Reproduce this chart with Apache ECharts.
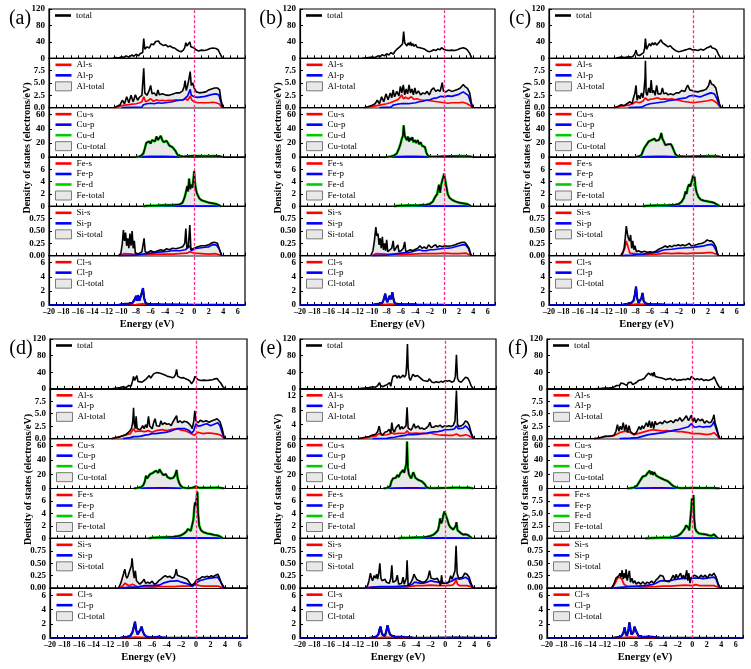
<!DOCTYPE html>
<html>
<head>
<meta charset="utf-8">
<script src="https://cdn.jsdelivr.net/npm/echarts@6/dist/echarts.min.js"></script>
<style>html,body{margin:0;padding:0;background:#fff}#chart{width:751px;height:669px}</style>
</head>
<body>
<div id="chart"></div>
<script>
// ---- data, [energy (eV), DOS] ----
// (a)
const aTot = [[-11.2,0],[-10.8,2],[-10.4,1],[-10,4],[-9.7,2],[-9.4,6],[-9,3],[-8.6,8],[-8.3,5],[-8,10],[-7.7,6],[-7.4,12],[-7.1,14],[-6.95,48],[-6.8,22],[-6.5,28],[-6.2,25],[-5.9,35],[-5.6,33],[-5.3,41],[-5.1,38],[-4.9,42],[-4.7,36],[-4.5,40],[-4.2,31],[-3.9,33],[-3.6,28],[-3.3,30],[-3,26],[-2.7,25],[-2.4,21],[-2.1,18],[-1.8,16],[-1.5,20],[-1.3,26],[-1.15,38],[-1,30],[-0.8,27],[-0.6,40],[-0.45,28],[-0.25,32],[0,25],[0.3,20],[0.6,18],[1,20],[1.4,19],[1.8,21],[2.2,24],[2.6,25],[3,24],[3.3,21],[3.6,10],[3.9,0]];
const aAlT = [[-11,0],[-10.6,0.3],[-10.2,0.6],[-9.9,1.5],[-9.6,0.8],[-9.3,2.2],[-9,1],[-8.7,2.5],[-8.4,1.2],[-8.1,2.6],[-7.8,1.5],[-7.5,2.2],[-7.2,2.5],[-6.95,8],[-6.8,3],[-6.5,2.5],[-6.2,3.5],[-6,4.5],[-5.8,2.8],[-5.5,3],[-5.2,2.4],[-5,3.6],[-4.8,2.6],[-4.4,2.8],[-4,2.6],[-3.5,2.5],[-3,2.7],[-2.5,3],[-2,3],[-1.6,3.4],[-1.4,4.2],[-1.25,5.5],[-1.1,3.5],[-0.9,4.5],[-0.7,6],[-0.55,7.3],[-0.4,4.5],[-0.2,5],[0,4],[0.3,3.2],[0.7,3],[1.2,3.1],[1.6,3.2],[2,3.6],[2.4,3.8],[2.8,4],[3.2,4],[3.5,3.6],[3.7,1.5],[3.95,0]];
const aAlP = [[-10,0],[-7.2,0.1],[-7,0.6],[-6.5,0.8],[-6,0.9],[-5.5,0.8],[-5,1],[-4.5,0.9],[-4,1],[-3.5,1.1],[-3,1.2],[-2.5,1.4],[-2,1.5],[-1.5,1.6],[-1.2,2],[-0.9,2.4],[-0.55,3.7],[-0.4,2.5],[0,2.2],[0.5,2.1],[1,2.2],[1.5,2.3],[2,2.5],[2.5,2.7],[3,2.8],[3.4,2.6],[3.7,1],[3.9,0]];
const aAlS = [[-11,0],[-10.5,0.2],[-10,0.4],[-9.5,0.5],[-9,0.6],[-8.5,0.7],[-8,0.8],[-7.5,1],[-7.2,1.2],[-6.95,2.2],[-6.7,1.2],[-6.4,1.4],[-6,1.8],[-5.6,1.3],[-5.2,1.6],[-4.8,1.4],[-4.4,1.5],[-4,1.4],[-3.5,1.5],[-3,1.5],[-2.5,1.6],[-2,1.5],[-1.5,1.6],[-1.2,1.8],[-0.9,1.5],[-0.55,2.3],[-0.3,1.5],[0,1.2],[0.5,1],[1,1],[1.5,1],[2,1],[2.5,1.1],[3,1],[3.4,0.8],[3.7,0.3],[3.9,0]];
const aCuT = [[-8,0],[-7.6,0.5],[-7.3,2],[-7,5],[-6.8,12],[-6.6,20],[-6.4,18],[-6.2,22],[-6,19],[-5.8,24],[-5.6,26],[-5.4,22],[-5.2,29],[-5,24],[-4.8,27],[-4.6,30],[-4.4,24],[-4.2,21],[-4,20],[-3.8,23],[-3.6,21],[-3.4,16],[-3.2,18],[-3,14],[-2.8,12],[-2.6,9],[-2.4,5],[-2.2,2],[-2,0.8],[-1.5,0.5],[-1,1],[-0.5,1.5],[0,1.8],[0.5,1.5],[1,1.2],[2,1.2],[3,1.5],[3.5,1],[3.9,0]];
const aCuP = [[-7.5,0],[-7,0.4],[-6,0.8],[-5,1],[-4,0.9],[-3,0.7],[-2.2,0.3],[-2,0]];
const aCuS = [[-7.5,0],[-6,0.3],[-3,0.3],[-2,0.1],[0,0.2],[3,0.2],[3.9,0]];
const aFeT = [[-7,0],[-6.5,0.1],[-5,0.15],[-4,0.2],[-3,0.2],[-2,0.3],[-1.6,0.6],[-1.3,1.5],[-1.1,2.5],[-0.95,3.3],[-0.85,2.4],[-0.7,4.5],[-0.55,2.8],[-0.4,3.5],[-0.25,3],[-0.1,4.5],[0,5.7],[0.1,4],[0.2,3],[0.35,2.2],[0.5,1.8],[0.7,1.3],[1,1],[1.5,0.8],[2,0.6],[2.5,0.5],[3,0.4],[3.4,0.2],[3.7,0]];
const aFeP = [[-7,0],[-5,0.03],[0,0.05],[3,0.03],[3.7,0]];
const aFeS = [[-7,0],[0,0.02],[3.7,0]];
const aSiT = [[-10.4,0],[-10.1,0.05],[-9.9,0.25],[-9.75,0.52],[-9.6,0.3],[-9.45,0.47],[-9.3,0.2],[-9.15,0.35],[-9,0.15],[-8.85,0.45],[-8.7,0.2],[-8.55,0.5],[-8.4,0.15],[-8.25,0.3],[-8.1,0.05],[-7.6,0.04],[-7.2,0.08],[-7,0.12],[-6.9,0.35],[-6.75,0.08],[-6.4,0.06],[-6,0.1],[-5.5,0.07],[-5,0.1],[-4.6,0.12],[-4.2,0.1],[-3.8,0.14],[-3.4,0.12],[-3,0.15],[-2.5,0.14],[-2,0.16],[-1.6,0.18],[-1.3,0.25],[-1.15,0.55],[-1,0.15],[-0.8,0.2],[-0.6,0.62],[-0.45,0.12],[-0.2,0.15],[0,0.15],[0.5,0.18],[1,0.2],[1.5,0.2],[2,0.22],[2.4,0.26],[2.8,0.27],[3.2,0.25],[3.5,0.12],[3.8,0]];
const aSiP = [[-10.4,0],[-8,0.01],[-7,0.03],[-6,0.05],[-5,0.07],[-4,0.08],[-3,0.1],[-2,0.1],[-1.2,0.12],[-0.6,0.2],[-0.4,0.1],[0,0.14],[0.5,0.15],[1,0.16],[1.5,0.17],[2,0.18],[2.5,0.22],[3,0.22],[3.4,0.15],[3.8,0]];
const aSiS = [[-10.4,0],[-9.7,0.04],[-8.5,0.03],[-7,0.02],[-5,0.03],[-3,0.03],[-1,0.05],[-0.6,0.08],[0,0.05],[1,0.04],[2,0.03],[3,0.04],[3.8,0]];
const aClT = [[-20,0],[-10.5,0],[-10,0.1],[-9.5,0.15],[-9,0.2],[-8.5,0.3],[-8.2,0.8],[-8,1.3],[-7.9,0.6],[-7.75,1.4],[-7.55,0.6],[-7.35,0.4],[-7.2,1.8],[-7.05,2.4],[-6.9,1],[-6.7,0.3],[-6.4,0.15],[-6,0.1],[-5.5,0.08],[-5,0.1],[-4.5,0.05],[-3,0.05],[0,0.03],[3,0.03],[7,0]];
const aClS = [[-10.5,0],[-8,0.05],[-7.1,0.15],[-6.5,0.05],[-5,0.05],[-4.5,0]];

// (b)
const bTot = [[-11.4,0],[-11,1],[-10.5,2],[-10,3],[-9.6,2],[-9.2,6],[-8.9,4],[-8.6,9],[-8.3,6],[-8,11],[-7.7,8],[-7.4,14],[-7.25,18],[-7.1,10],[-6.9,16],[-6.6,22],[-6.4,18],[-6.2,28],[-6,25],[-5.8,35],[-5.65,65],[-5.5,38],[-5.35,42],[-5.2,30],[-5,38],[-4.85,32],[-4.7,40],[-4.55,30],[-4.4,36],[-4.2,29],[-4,34],[-3.8,27],[-3.6,31],[-3.4,26],[-3.2,28],[-3,24],[-2.7,22],[-2.4,18],[-2.1,16],[-1.8,18],[-1.5,21],[-1.2,19],[-0.9,23],[-0.6,21],[-0.4,26],[-0.25,30],[-0.1,22],[0.2,20],[0.6,19],[1,20],[1.4,19],[1.8,21],[2.2,24],[2.6,26],[2.9,24],[3.2,20],[3.5,12],[3.8,0]];
const bAlT = [[-11.2,0],[-10.6,0.2],[-10,0.5],[-9.6,0.8],[-9.3,1.5],[-9,0.8],[-8.7,2.2],[-8.4,1.2],[-8.1,2.8],[-7.8,1.6],[-7.5,3],[-7.3,2],[-7.1,3.6],[-6.9,2.2],[-6.6,3.3],[-6.3,2.4],[-6.1,4.3],[-5.9,3],[-5.7,4.6],[-5.5,2.6],[-5.3,3.8],[-5.1,2.8],[-4.9,4.6],[-4.7,3],[-4.5,3.8],[-4.3,2.6],[-4.1,4],[-3.9,2.8],[-3.6,3.4],[-3.3,2.6],[-3,3],[-2.7,2.8],[-2.4,3.3],[-2.1,2.6],[-1.8,3.6],[-1.5,4],[-1.2,3.3],[-0.9,3.6],[-0.6,3.3],[-0.3,5.1],[-0.15,3.4],[0.2,3.2],[0.6,3.6],[1,3.3],[1.4,3.5],[1.8,3.7],[2.2,4],[2.6,4.7],[2.9,4.2],[3.2,3.9],[3.5,3],[3.7,1.2],[3.9,0]];
const bAlP = [[-9,0],[-7.4,0.1],[-7.1,0.5],[-6.5,0.7],[-6,0.8],[-5,0.8],[-4.5,0.9],[-4,1],[-3.5,1.2],[-3,1.3],[-2.5,1.5],[-2,1.6],[-1.5,1.9],[-1,2],[-0.5,2.3],[-0.3,2.6],[0,2.2],[0.5,2.4],[1,2.3],[1.5,2.5],[2,2.7],[2.6,3.2],[3,2.8],[3.3,2.5],[3.6,1.2],[3.9,0]];
const bAlS = [[-11,0],[-10,0.2],[-9,0.5],[-8,0.8],[-7.5,1],[-7,1.3],[-6.5,1.6],[-6.2,2],[-6,1.6],[-5.9,2.6],[-5.7,1.8],[-5.4,2.1],[-5,1.8],[-4.6,2.2],[-4.2,1.7],[-3.8,1.8],[-3.4,1.6],[-3,1.5],[-2.5,1.5],[-2,1.4],[-1.5,1.3],[-1,1.2],[-0.5,1.1],[-0.3,1.5],[0,1],[0.5,0.9],[1,1],[1.5,1],[2,1],[2.5,1.1],[3,0.9],[3.5,0.5],[3.9,0]];
const bCuT = [[-8,0],[-7.5,0.5],[-7,2],[-6.6,5],[-6.3,12],[-6.1,18],[-5.9,26],[-5.75,30],[-5.65,45],[-5.5,30],[-5.35,28],[-5.2,24],[-5.05,29],[-4.9,22],[-4.75,27],[-4.6,24],[-4.45,28],[-4.3,21],[-4.1,24],[-3.9,20],[-3.7,24],[-3.5,18],[-3.3,21],[-3.1,16],[-2.9,18],[-2.7,14],[-2.5,6],[-2.3,2],[-2,0.5],[-1,0.5],[0,1],[1,1],[2,1.2],[3,1.2],[3.5,0.8],[3.9,0]];
const bCuP = [[-7.5,0],[-6.5,0.5],[-5,0.8],[-4,0.8],[-3,0.6],[-2.3,0.2],[-2,0]];
const bCuS = [[-7.5,0],[-6,0.3],[-3,0.3],[-2,0.1],[0,0.2],[3,0.2],[3.9,0]];
const bFeT = [[-7,0],[-6.5,0.1],[-5,0.15],[-3.5,0.2],[-2.5,0.25],[-2,0.4],[-1.6,0.8],[-1.3,1.5],[-1,2],[-0.85,3],[-0.75,3.5],[-0.6,2.2],[-0.45,3.5],[-0.3,4.2],[-0.15,4.8],[-0.05,5.3],[0.05,4.6],[0.15,4.8],[0.3,3],[0.45,2],[0.7,1.4],[1,1.1],[1.5,0.8],[2,0.6],[2.5,0.5],[3,0.4],[3.3,0.3],[3.7,0]];
const bFeP = [[-7,0],[-4,0.03],[0,0.05],[3,0.03],[3.7,0]];
const bFeS = [[-7,0],[0,0.02],[3.7,0]];
const bSiT = [[-10.2,0],[-9.9,0.1],[-9.7,0.3],[-9.5,0.58],[-9.35,0.4],[-9.2,0.45],[-9.05,0.22],[-8.9,0.35],[-8.75,0.15],[-8.6,0.38],[-8.45,0.12],[-8.3,0.25],[-8.15,0.1],[-8,0.32],[-7.85,0.08],[-7.6,0.1],[-7.3,0.15],[-7.1,0.3],[-6.95,0.1],[-6.7,0.12],[-6.45,0.22],[-6.3,0.08],[-6,0.1],[-5.7,0.15],[-5.5,0.28],[-5.35,0.08],[-5,0.1],[-4.7,0.12],[-4.4,0.1],[-4,0.13],[-3.7,0.15],[-3.4,0.2],[-3.1,0.15],[-2.8,0.18],[-2.5,0.14],[-2.2,0.22],[-2,0.24],[-1.8,0.16],[-1.5,0.2],[-1.2,0.22],[-1,0.17],[-0.7,0.2],[-0.3,0.18],[0,0.2],[0.5,0.19],[1,0.2],[1.5,0.22],[2,0.25],[2.5,0.27],[2.8,0.27],[3.1,0.22],[3.4,0.15],[3.7,0]];
const bSiP = [[-10,0],[-8,0.01],[-7,0.03],[-6,0.05],[-5,0.06],[-4.5,0.08],[-4,0.1],[-3.5,0.12],[-3,0.1],[-2.5,0.1],[-2,0.12],[-1.5,0.12],[-1,0.13],[-0.5,0.14],[0,0.15],[0.5,0.15],[1,0.16],[1.5,0.18],[2,0.2],[2.5,0.22],[2.9,0.22],[3.3,0.15],[3.7,0]];
const bSiS = [[-10,0],[-9.5,0.04],[-8,0.03],[-6,0.02],[-4.5,0.03],[-3,0.04],[-1,0.04],[0,0.05],[1,0.04],[2,0.04],[3,0.05],[3.7,0]];
const bClT = [[-20,0],[-10,0],[-9.6,0.1],[-9,0.2],[-8.6,0.3],[-8.4,0.8],[-8.2,1.6],[-8.05,0.8],[-7.9,0.4],[-7.75,0.9],[-7.6,1.3],[-7.45,0.8],[-7.3,1.4],[-7.2,1.8],[-7.05,0.8],[-6.9,0.3],[-6.6,0.15],[-6,0.1],[-5,0.08],[-4.2,0.1],[-3.8,0.05],[0,0.03],[7,0]];
const bClS = [[-10,0],[-8.5,0.05],[-7.5,0.12],[-7,0.1],[-6,0.05],[-5,0]];

// (c)
const cTot = [[-10.8,0],[-10.4,2],[-10,3],[-9.5,2],[-9,4],[-8.6,3],[-8.3,6],[-8.1,12],[-7.95,20],[-7.8,9],[-7.5,7],[-7.2,10],[-6.9,14],[-6.75,25],[-6.65,48],[-6.5,22],[-6.3,20],[-6.1,36],[-5.9,30],[-5.7,38],[-5.5,33],[-5.3,38],[-5.1,32],[-4.9,36],[-4.7,40],[-4.5,45],[-4.3,38],[-4.1,40],[-3.9,33],[-3.7,35],[-3.5,28],[-3.2,31],[-3,26],[-2.7,22],[-2.4,18],[-2,16],[-1.6,18],[-1.2,20],[-0.8,22],[-0.5,24],[-0.3,26],[-0.1,20],[0.2,21],[0.6,19],[1,22],[1.4,20],[1.8,25],[2.1,27],[2.4,30],[2.6,25],[2.9,24],[3.2,20],[3.5,8],[3.8,0]];
const cAlT = [[-11,0],[-10.5,0.2],[-10,0.6],[-9.6,0.4],[-9.2,0.8],[-8.8,1.2],[-8.5,0.8],[-8.3,2],[-8.1,3],[-7.95,4.5],[-7.8,1.5],[-7.6,2.5],[-7.4,1.8],[-7.2,3],[-7,2],[-6.85,3.5],[-6.7,6],[-6.65,9.5],[-6.55,3],[-6.4,2.5],[-6.2,4],[-6,3],[-5.85,5.6],[-5.7,3],[-5.5,3.5],[-5.3,2.5],[-5.1,4.5],[-4.9,2.8],[-4.7,3.2],[-4.5,2.8],[-4.3,4],[-4.1,2.8],[-3.8,3],[-3.5,2.6],[-3.2,2.8],[-2.8,2.6],[-2.4,3],[-2,3],[-1.6,3.5],[-1.2,3.3],[-0.8,4.6],[-0.5,3.6],[-0.2,3.5],[0.2,3.3],[0.6,3.2],[1,3.4],[1.4,3.5],[1.8,3.8],[2.1,4.5],[2.3,5.6],[2.5,4.8],[2.8,4.6],[3.1,4],[3.4,2],[3.6,0.8],[3.8,0]];
const cAlP = [[-9,0],[-7.2,0.1],[-7,0.4],[-6.5,0.6],[-6,0.8],[-5.5,0.9],[-5,1],[-4.5,1.1],[-4,1.2],[-3.5,1.4],[-3,1.5],[-2.5,1.6],[-2,1.8],[-1.5,1.9],[-1,2],[-0.5,2.4],[0,2.5],[0.5,2.3],[1,2.2],[1.5,2.5],[2,2.8],[2.4,3],[2.6,3.3],[2.9,2.8],[3.2,2],[3.5,0.8],[3.8,0]];
const cAlS = [[-11,0],[-10,0.3],[-9,0.5],[-8.4,0.8],[-8,1.2],[-7.5,1],[-7,1.3],[-6.65,2],[-6.3,1.5],[-6,1.7],[-5.5,1.8],[-5,2],[-4.5,1.7],[-4,1.8],[-3.5,1.7],[-3,1.8],[-2.5,1.6],[-2,1.5],[-1.5,1.3],[-1,1.2],[-0.5,1.1],[0,1],[0.5,1.1],[1,1.2],[1.5,1.3],[2,1.4],[2.5,1.6],[2.8,1.4],[3.2,1],[3.5,0.5],[3.8,0]];
const cCuT = [[-8,0],[-7.5,1],[-7.2,3],[-7,8],[-6.8,13],[-6.6,16],[-6.4,18],[-6.2,22],[-6,20],[-5.8,24],[-5.6,22],[-5.4,26],[-5.2,23],[-5,25],[-4.8,24],[-4.6,28],[-4.45,34],[-4.3,26],[-4.1,22],[-3.9,17],[-3.7,15],[-3.5,18],[-3.3,16],[-3.1,18],[-2.9,14],[-2.7,9],[-2.5,4],[-2.2,1.5],[-2,0.8],[-1,0.6],[0,1],[1,1],[2,1.2],[3,1.3],[3.5,0.8],[3.8,0]];
const cCuP = [[-7.5,0],[-6.5,0.5],[-5,0.8],[-4,0.8],[-3,0.6],[-2.3,0.2],[-2,0]];
const cCuS = [[-7.5,0],[-6,0.3],[-3,0.3],[-2,0.1],[0,0.2],[3,0.2],[3.8,0]];
const cFeT = [[-7,0],[-6.5,0.1],[-5,0.15],[-3.5,0.2],[-2.5,0.25],[-2,0.4],[-1.6,0.8],[-1.3,1.4],[-1.1,2.4],[-0.95,2],[-0.8,3],[-0.6,3.6],[-0.45,3.2],[-0.3,3.8],[-0.15,4.5],[-0.05,5],[0.05,4.2],[0.15,4.8],[0.3,3],[0.45,2.2],[0.7,1.5],[1,1.1],[1.5,0.9],[2,0.8],[2.4,0.7],[2.8,0.6],[3.1,0.4],[3.4,0.2],[3.6,0]];
const cFeP = [[-7,0],[-4,0.03],[0,0.05],[3,0.03],[3.6,0]];
const cFeS = [[-7,0],[0,0.02],[3.6,0]];
const cSiT = [[-10.1,0],[-9.8,0.05],[-9.6,0.15],[-9.45,0.35],[-9.3,0.6],[-9.15,0.45],[-9,0.35],[-8.85,0.3],[-8.7,0.42],[-8.55,0.15],[-8.4,0.3],[-8.25,0.12],[-8.1,0.2],[-7.9,0.08],[-7.6,0.1],[-7.2,0.07],[-6.8,0.09],[-6.4,0.07],[-6,0.08],[-5.6,0.07],[-5.2,0.09],[-4.8,0.13],[-4.5,0.15],[-4.2,0.17],[-3.9,0.2],[-3.6,0.17],[-3.3,0.2],[-3,0.18],[-2.7,0.21],[-2.4,0.2],[-2.1,0.22],[-1.8,0.2],[-1.5,0.22],[-1.2,0.2],[-0.9,0.22],[-0.6,0.25],[-0.3,0.2],[0,0.2],[0.4,0.22],[0.8,0.24],[1.2,0.25],[1.6,0.28],[1.9,0.32],[2.2,0.3],[2.5,0.3],[2.8,0.26],[3.1,0.18],[3.3,0.05],[3.5,0]];
const cSiP = [[-10,0],[-8.5,0.01],[-7,0.03],[-6,0.05],[-5,0.07],[-4.5,0.1],[-4,0.12],[-3,0.13],[-2,0.15],[-1,0.16],[0,0.17],[0.5,0.18],[1,0.19],[1.5,0.2],[2,0.22],[2.5,0.23],[2.8,0.2],[3.1,0.12],[3.4,0]];
const cSiS = [[-10,0],[-9.5,0.15],[-9.3,0.3],[-9.1,0.2],[-8.8,0.05],[-7,0.02],[-5,0.03],[-4,0.05],[-3,0.04],[-2,0.05],[-1,0.04],[0,0.05],[1,0.05],[2,0.06],[2.6,0.06],[3.2,0.03],[3.5,0]];
const cClT = [[-20,0],[-10,0],[-9.5,0.1],[-9,0.2],[-8.6,0.3],[-8.3,0.6],[-8.1,1.5],[-7.95,2.6],[-7.8,1],[-7.6,0.3],[-7.4,0.4],[-7.2,1],[-7.05,1.7],[-6.9,0.6],[-6.7,0.3],[-6.4,0.15],[-6,0.1],[-5,0.08],[-4,0.05],[0,0.03],[7,0]];
const cClS = [[-10,0],[-8.5,0.05],[-7.8,0.12],[-7,0.1],[-6,0.05],[-5,0]];

// (d)
const dTot = [[-11.6,0],[-11.2,1],[-10.8,2],[-10.4,3],[-10,5],[-9.6,3],[-9.2,8],[-8.9,6],[-8.7,18],[-8.55,30],[-8.4,20],[-8.25,26],[-8.1,32],[-7.95,18],[-7.7,14],[-7.4,16],[-7.1,20],[-6.8,24],[-6.6,22],[-6.4,32],[-6.2,26],[-6,30],[-5.8,36],[-5.6,34],[-5.4,39],[-5.2,40],[-5,38],[-4.8,41],[-4.5,35],[-4.2,33],[-3.9,30],[-3.6,29],[-3.3,27],[-3,28],[-2.8,34],[-2.65,47],[-2.5,30],[-2.3,28],[-2,26],[-1.7,27],[-1.4,24],[-1.1,22],[-0.8,18],[-0.6,12],[-0.45,10],[-0.3,20],[-0.15,30],[0,27],[0.3,22],[0.7,20],[1.1,21],[1.5,20],[1.9,21],[2.3,22],[2.6,24],[2.9,25],[3.1,20],[3.4,14],[3.7,5],[4,0]];
const dAlT = [[-11.6,0],[-11,0.2],[-10.5,0.4],[-10,0.6],[-9.6,0.8],[-9.3,1.2],[-9,1.6],[-8.8,2.2],[-8.65,3.5],[-8.55,6.2],[-8.45,3],[-8.3,2],[-8.2,4.5],[-8.05,2],[-7.9,1.6],[-7.6,1.8],[-7.3,2.6],[-7.1,2],[-6.9,2.8],[-6.7,2.2],[-6.5,4.5],[-6.35,2.6],[-6.2,3],[-6,2],[-5.8,3.2],[-5.6,4],[-5.4,2.6],[-5.2,3],[-5,2.5],[-4.8,3.6],[-4.6,2.8],[-4.3,3.2],[-4,2.9],[-3.7,3],[-3.4,2.6],[-3.1,3.5],[-2.9,3.4],[-2.65,4.6],[-2.5,3.2],[-2.2,3.6],[-1.9,3.2],[-1.6,3.5],[-1.3,3.4],[-1,3.1],[-0.7,2.6],[-0.5,2],[-0.3,3.5],[-0.15,5.6],[0,3.6],[0.3,3.2],[0.6,3.7],[1,3.4],[1.4,3.6],[1.8,3.3],[2.2,3.6],[2.6,3.8],[2.9,4],[3.1,4.3],[3.3,3.4],[3.6,2],[3.9,0]];
const dAlP = [[-10,0],[-9,0.2],[-8.5,0.4],[-8,0.4],[-7.5,0.5],[-7,0.7],[-6.5,0.8],[-6,1],[-5.5,1],[-5,1.1],[-4.5,1.2],[-4,1.3],[-3.5,1.5],[-3,1.8],[-2.5,2],[-2,2],[-1.5,2],[-1,1.7],[-0.6,1.1],[-0.3,1.6],[0,3],[0.3,2.5],[0.7,2.6],[1,2.8],[1.5,3],[2,2.6],[2.5,2.9],[3,3.2],[3.3,2.6],[3.6,1.2],[3.9,0]];
const dAlS = [[-11.5,0],[-10.5,0.3],[-10,0.6],[-9.5,0.8],[-9,1],[-8.55,2],[-8.3,1.4],[-8,1.5],[-7.5,1.5],[-7,1.4],[-6.5,1.6],[-6,1.3],[-5.5,1.6],[-5,1.7],[-4.5,1.8],[-4,1.6],[-3.5,1.8],[-3,1.9],[-2.5,2],[-2,1.7],[-1.5,1.6],[-1,1.3],[-0.5,0.9],[-0.2,0.7],[0,1],[0.3,1.3],[0.7,1.1],[1,1],[1.5,1.1],[2,1.1],[2.5,1],[3,0.9],[3.4,0.7],[3.7,0.3],[3.9,0]];
const dCuT = [[-8.5,0],[-8,0.8],[-7.5,2],[-7.2,5],[-7,10],[-6.85,18],[-6.7,14],[-6.5,16],[-6.3,20],[-6.1,18],[-5.9,22],[-5.7,21],[-5.5,25],[-5.3,26],[-5.15,22],[-5,27],[-4.85,28],[-4.7,22],[-4.5,19],[-4.3,18],[-4.1,20],[-3.9,16],[-3.7,17],[-3.5,14],[-3.3,16],[-3.1,15],[-2.9,18],[-2.75,22],[-2.65,26],[-2.5,14],[-2.3,8],[-2.1,4],[-1.8,1.5],[-1.4,0.8],[-1,0.5],[-0.5,1],[0,3],[0.3,1.5],[0.7,1],[1.5,1],[2.5,1.2],[3,1.3],[3.5,0.8],[3.9,0]];
const dCuP = [[-8,0],[-7,0.5],[-5,0.8],[-4,0.8],[-3,0.6],[-2.3,0.2],[-2,0]];
const dCuS = [[-8,0],[-6,0.3],[-3,0.3],[-2,0.1],[0,0.3],[3,0.2],[3.9,0]];
const dFeT = [[-6.5,0],[-6,0.1],[-5,0.15],[-4,0.2],[-3,0.25],[-2.5,0.35],[-2,0.5],[-1.6,0.8],[-1.3,1.1],[-1.1,1.5],[-0.9,1.6],[-0.7,1.2],[-0.5,1],[-0.35,3],[-0.2,5.2],[-0.1,5.8],[0,5.2],[0.1,6.5],[0.2,7.5],[0.3,4],[0.45,2],[0.7,1.3],[1,1],[1.5,0.8],[2,0.7],[2.5,0.55],[3,0.45],[3.3,0.3],[3.7,0]];
const dFeP = [[-6.5,0],[-4,0.03],[0,0.06],[3,0.04],[3.7,0]];
const dFeS = [[-6.5,0],[0,0.02],[3.7,0]];
const dSiT = [[-10.6,0],[-10.3,0.1],[-10.1,0.2],[-9.9,0.3],[-9.75,0.38],[-9.6,0.25],[-9.45,0.2],[-9.3,0.25],[-9.15,0.32],[-9,0.28],[-8.85,0.45],[-8.75,0.6],[-8.6,0.35],[-8.45,0.2],[-8.3,0.35],[-8.15,0.15],[-8,0.12],[-7.7,0.08],[-7.4,0.12],[-7.1,0.18],[-6.9,0.1],[-6.6,0.12],[-6.3,0.1],[-6,0.14],[-5.7,0.08],[-5.4,0.1],[-5.1,0.15],[-4.8,0.18],[-4.5,0.22],[-4.2,0.25],[-3.9,0.22],[-3.6,0.24],[-3.3,0.2],[-3,0.22],[-2.8,0.3],[-2.7,0.38],[-2.55,0.26],[-2.4,0.28],[-2.2,0.24],[-2,0.26],[-1.8,0.22],[-1.5,0.2],[-1.2,0.18],[-0.9,0.12],[-0.6,0.05],[-0.4,0.04],[-0.2,0.1],[0,0.15],[0.3,0.18],[0.6,0.2],[0.9,0.23],[1.2,0.22],[1.5,0.24],[1.8,0.22],[2.1,0.25],[2.4,0.23],[2.7,0.26],[3,0.28],[3.2,0.22],[3.5,0.1],[3.8,0.03],[3.9,0]];
const dSiP = [[-10.5,0],[-9,0.02],[-8,0.02],[-7,0.05],[-6,0.05],[-5,0.06],[-4.5,0.1],[-4,0.12],[-3.5,0.14],[-3,0.14],[-2.5,0.15],[-2,0.12],[-1.5,0.1],[-1,0.08],[-0.5,0.03],[0,0.1],[0.5,0.15],[1,0.17],[1.5,0.19],[2,0.2],[2.5,0.21],[3,0.22],[3.4,0.12],[3.8,0]];
const dSiS = [[-10.5,0],[-10,0.05],[-9.7,0.1],[-9.2,0.05],[-8.7,0.08],[-8,0.03],[-6,0.02],[-5,0.03],[-4,0.03],[-3,0.03],[-2,0.04],[-1,0.04],[-0.3,0.06],[0,0.07],[0.5,0.05],[1,0.04],[2,0.04],[3,0.04],[3.8,0]];
const dClT = [[-20,0],[-10.5,0],[-10,0.1],[-9.5,0.15],[-9,0.3],[-8.7,0.8],[-8.5,1.6],[-8.35,2.3],[-8.2,1.2],[-8,0.5],[-7.8,0.6],[-7.6,1.2],[-7.45,1.6],[-7.3,1],[-7.1,0.5],[-6.8,0.2],[-6.4,0.12],[-6,0.1],[-5.5,0.12],[-5,0.2],[-4.7,0.1],[-4,0.05],[0,0.03],[7,0]];
const dClS = [[-10.5,0],[-9,0.05],[-8.3,0.12],[-7.5,0.1],[-6.5,0.05],[-5,0]];

// (e)
const eTot = [[-12,0],[-11.5,1],[-11,2],[-10.5,3],[-10,5],[-9.6,4],[-9.3,8],[-9.05,15],[-8.9,8],[-8.6,5],[-8.3,8],[-8,10],[-7.8,12],[-7.65,15],[-7.5,6],[-7.35,20],[-7.2,30],[-7,28],[-6.8,32],[-6.6,26],[-6.4,32],[-6.2,26],[-6,30],[-5.8,33],[-5.6,28],[-5.4,34],[-5.3,60],[-5.2,108],[-5.1,50],[-4.95,26],[-4.8,20],[-4.6,24],[-4.45,35],[-4.3,36],[-4.15,30],[-4,28],[-3.8,32],[-3.6,35],[-3.4,26],[-3.2,22],[-3,20],[-2.7,19],[-2.4,18],[-2.2,24],[-2,22],[-1.8,16],[-1.5,15],[-1.2,17],[-0.9,15],[-0.6,18],[-0.3,16],[0,20],[0.3,18],[0.6,20],[0.9,16],[1.2,18],[1.4,30],[1.55,82],[1.7,25],[1.9,18],[2.2,16],[2.5,22],[2.8,28],[3.1,26],[3.3,20],[3.6,6],[3.9,0]];
const eAlT = [[-12,0],[-11.5,0.2],[-11,0.4],[-10.5,0.6],[-10,1],[-9.6,1.2],[-9.3,2],[-9.1,3.5],[-8.9,1.6],[-8.6,1],[-8.3,1.8],[-8,2],[-7.7,2.6],[-7.5,1.5],[-7.35,4.5],[-7.2,2.5],[-7,1.8],[-6.8,3],[-6.6,2.6],[-6.4,4],[-6.2,2.6],[-6,3.4],[-5.8,2.8],[-5.6,3],[-5.4,3.6],[-5.25,8.8],[-5.1,3],[-4.9,2.8],[-4.7,2.4],[-4.5,3.2],[-4.3,4.2],[-4.1,3],[-3.9,3.2],[-3.7,3.6],[-3.5,2.8],[-3.2,3],[-2.9,2.6],[-2.6,3],[-2.3,3.6],[-2.1,4.6],[-1.9,3.2],[-1.6,3.2],[-1.3,3.6],[-1,3.4],[-0.7,3.8],[-0.4,3.2],[-0.1,3.6],[0.2,3.4],[0.5,3.6],[0.8,3.4],[1.1,3.7],[1.35,5],[1.55,13.5],[1.7,4],[1.9,3.4],[2.2,3.6],[2.5,4],[2.8,5],[3.1,4.6],[3.3,3.8],[3.6,1.5],[3.9,0]];
const eAlP = [[-10,0],[-8,0.1],[-7.5,0.3],[-7,0.4],[-6.5,0.6],[-6,0.8],[-5.5,0.9],[-5.2,1.2],[-5,1],[-4.5,1.1],[-4,1.2],[-3.5,1.3],[-3,1.5],[-2.5,1.6],[-2,1.8],[-1.5,1.9],[-1,2],[-0.5,2.2],[0,2.5],[0.5,2.5],[1,2.6],[1.3,2.8],[1.55,3.6],[1.8,2.8],[2.2,2.9],[2.5,3],[2.8,3.6],[3.1,3],[3.4,2.2],[3.7,0.8],[3.9,0]];
const eAlS = [[-12,0],[-11,0.2],[-10.5,0.4],[-10,0.6],[-9.5,0.8],[-9.1,1.5],[-8.8,1],[-8,1.1],[-7.35,1.6],[-7,1.3],[-6.5,1.5],[-6,1.5],[-5.5,1.6],[-5.25,2.2],[-5,1.6],[-4.5,1.5],[-4,1.6],[-3.5,1.5],[-3,1.4],[-2.5,1.4],[-2.1,1.6],[-1.5,1.3],[-1,1.1],[-0.5,1],[0,1],[0.5,0.9],[1,0.9],[1.55,1.3],[2,0.8],[2.5,0.9],[2.8,1.1],[3.2,0.9],[3.6,0.4],[3.9,0]];
const eCuT = [[-8.5,0],[-8,0.8],[-7.6,3],[-7.4,10],[-7.2,14],[-7,16],[-6.8,15],[-6.6,19],[-6.4,16],[-6.2,21],[-6,20],[-5.8,26],[-5.65,22],[-5.5,24],[-5.35,35],[-5.25,66],[-5.15,30],[-5,20],[-4.85,17],[-4.7,14],[-4.55,18],[-4.4,23],[-4.25,19],[-4.1,15],[-3.9,14],[-3.7,12],[-3.5,12],[-3.2,10],[-3,9],[-2.8,6],[-2.6,2],[-2.3,0.8],[-1.5,0.5],[-0.5,0.8],[0.5,1],[1.3,1.2],[1.55,4],[1.8,1.2],[2.5,1],[3.2,1.2],[3.6,0.6],[3.9,0]];
const eCuP = [[-8,0],[-7,0.5],[-5,0.8],[-4,0.8],[-3,0.6],[-2.5,0.2],[-2.2,0]];
const eCuS = [[-8,0],[-6,0.3],[-3,0.3],[-2,0.1],[0,0.2],[3,0.2],[3.9,0]];
const eFeT = [[-6.5,0],[-6,0.08],[-5,0.1],[-4,0.15],[-3,0.2],[-2.5,0.25],[-2,0.4],[-1.6,0.6],[-1.3,0.9],[-1,1.3],[-0.85,2],[-0.7,3.2],[-0.55,2.4],[-0.4,2.8],[-0.25,3.8],[-0.1,4.3],[0,4.4],[0.15,4],[0.3,3],[0.5,2.2],[0.7,1.8],[0.9,1.5],[1.1,1.4],[1.3,1.3],[1.45,2],[1.55,2.6],[1.7,1.3],[1.9,1],[2.2,0.8],[2.5,0.6],[2.8,0.65],[3.1,0.55],[3.4,0.3],[3.7,0]];
const eFeP = [[-6.5,0],[-4,0.03],[0,0.06],[3,0.04],[3.7,0]];
const eFeS = [[-6.5,0],[0,0.02],[3.7,0]];
const eSiT = [[-11,0],[-10.7,0.05],[-10.5,0.15],[-10.3,0.3],[-10.15,0.2],[-10,0.15],[-9.8,0.25],[-9.6,0.2],[-9.45,0.28],[-9.3,0.18],[-9.15,0.3],[-9,0.5],[-8.85,0.2],[-8.7,0.15],[-8.5,0.12],[-8.3,0.18],[-8.1,0.12],[-7.9,0.15],[-7.7,0.1],[-7.5,0.2],[-7.35,0.46],[-7.2,0.12],[-7,0.1],[-6.8,0.15],[-6.6,0.26],[-6.4,0.08],[-6.2,0.12],[-6,0.1],[-5.8,0.22],[-5.65,0.08],[-5.5,0.1],[-5.35,0.2],[-5.25,0.56],[-5.1,0.05],[-4.9,0.08],[-4.7,0.12],[-4.5,0.18],[-4.3,0.28],[-4.1,0.22],[-3.9,0.17],[-3.6,0.15],[-3.3,0.13],[-3,0.12],[-2.7,0.14],[-2.4,0.2],[-2.15,0.35],[-1.95,0.2],[-1.7,0.16],[-1.4,0.18],[-1.1,0.2],[-0.8,0.12],[-0.65,0.05],[-0.5,0.26],[-0.35,0.1],[-0.1,0.12],[0.2,0.1],[0.5,0.12],[0.75,0.25],[0.95,0.18],[1.2,0.15],[1.35,0.35],[1.5,0.85],[1.65,0.3],[1.85,0.2],[2.1,0.2],[2.4,0.22],[2.7,0.3],[3,0.28],[3.3,0.22],[3.6,0.08],[3.9,0]];
const eSiP = [[-11,0],[-10,0.02],[-9,0.03],[-8,0.03],[-7,0.03],[-6,0.04],[-5,0.05],[-4.5,0.08],[-4.2,0.12],[-3.5,0.1],[-3,0.1],[-2.5,0.12],[-2,0.15],[-1.5,0.13],[-1,0.12],[-0.5,0.1],[0,0.1],[0.5,0.12],[1,0.15],[1.5,0.2],[2,0.18],[2.5,0.2],[2.8,0.22],[3.2,0.18],[3.5,0.08],[3.8,0]];
const eSiS = [[-11,0],[-10,0.02],[-8,0.02],[-5.4,0.02],[-5.2,0.05],[-4,0.05],[-3,0.05],[-2,0.06],[-1,0.05],[0,0.05],[1,0.06],[1.3,0.1],[1.5,0.18],[1.7,0.08],[2,0.05],[3,0.05],[3.5,0.03],[3.8,0]];
const eClT = [[-20,0],[-10.5,0],[-10,0.1],[-9.5,0.2],[-9.2,0.5],[-9.05,1.2],[-8.9,1.6],[-8.75,0.8],[-8.6,0.4],[-8.3,0.3],[-8.1,1],[-7.95,1.8],[-7.8,1.2],[-7.6,0.5],[-7.3,0.3],[-7,0.2],[-6.5,0.15],[-6,0.15],[-5.5,0.12],[-5,0.1],[-4.5,0.05],[-2,0.03],[1.4,0.05],[1.6,0.2],[1.8,0.05],[7,0]];
const eClS = [[-10.5,0],[-9,0.05],[-8,0.1],[-7,0.08],[-6,0.05],[-5,0]];

// (f)
const fTot = [[-13.5,0],[-13,0.5],[-12.5,1],[-12,2],[-11.5,2],[-11,3],[-10.7,5],[-10.4,8],[-10.2,12],[-10,8],[-9.8,14],[-9.6,10],[-9.4,12],[-9.2,16],[-9,8],[-8.8,15],[-8.6,12],[-8.4,16],[-8.2,10],[-8,9],[-7.8,14],[-7.6,18],[-7.4,20],[-7.2,24],[-7,22],[-6.8,26],[-6.6,25],[-6.4,30],[-6.2,34],[-6,38],[-5.85,42],[-5.7,33],[-5.55,38],[-5.4,30],[-5.25,40],[-5.1,30],[-4.9,33],[-4.7,28],[-4.5,30],[-4.2,26],[-3.9,24],[-3.6,22],[-3.3,24],[-3,25],[-2.7,21],[-2.4,24],[-2.1,20],[-1.8,22],[-1.5,21],[-1.2,23],[-0.9,22],[-0.6,25],[-0.3,22],[-0.1,30],[0.1,26],[0.4,22],[0.7,24],[1,22],[1.3,24],[1.6,20],[1.9,22],[2.2,20],[2.5,22],[2.8,24],[3,29],[3.2,22],[3.4,14],[3.7,5],[4,0]];
const fAlT = [[-13.5,0],[-13,0.1],[-12.5,0.3],[-12,0.5],[-11.5,0.5],[-11,0.6],[-10.7,0.8],[-10.5,1.5],[-10.3,2.8],[-10.1,1.5],[-9.9,2.5],[-9.7,1.8],[-9.5,3.2],[-9.3,1.6],[-9.1,2.8],[-8.9,1.2],[-8.7,2.6],[-8.5,1.4],[-8.3,1],[-8,0.8],[-7.7,1.2],[-7.5,1.4],[-7.3,2.4],[-7.1,1.8],[-6.9,2.6],[-6.7,2],[-6.5,2.6],[-6.3,3.2],[-6.1,2.4],[-5.9,3.6],[-5.7,2.2],[-5.5,3.4],[-5.3,2],[-5.1,3.5],[-4.9,2.8],[-4.7,3],[-4.4,3.3],[-4.1,3],[-3.8,3.6],[-3.5,3.2],[-3.2,3.4],[-2.9,3.6],[-2.6,3.2],[-2.3,3.8],[-2,3.6],[-1.7,4.2],[-1.4,3.5],[-1.1,4],[-0.8,4.6],[-0.5,3.6],[-0.3,3.9],[-0.1,4.7],[0.1,3.4],[0.3,4.2],[0.5,3.2],[0.8,4],[1.1,3.6],[1.4,3.9],[1.7,3.1],[2,3.6],[2.3,3.2],[2.6,3.3],[2.85,4],[3,4.8],[3.15,3.2],[3.4,2],[3.6,0.8],[3.8,0]];
const fAlP = [[-10,0],[-8.5,0.1],[-7.5,0.2],[-7,0.4],[-6.5,0.6],[-6,0.8],[-5.5,0.9],[-5,1],[-4.5,1.1],[-4,1.2],[-3.5,1.4],[-3,1.5],[-2.5,1.7],[-2,1.8],[-1.5,2],[-1,2.2],[-0.5,2.4],[-0.1,3],[0.2,2.4],[0.5,2.3],[1,2.5],[1.5,2.3],[2,2.4],[2.5,2.4],[2.8,2.8],[3,3.5],[3.2,2.4],[3.5,1.2],[3.8,0]];
const fAlS = [[-13.5,0],[-12.5,0.2],[-12,0.4],[-11,0.5],[-10.5,0.8],[-10,1.2],[-9.5,1.4],[-9,1.5],[-8.5,1.2],[-8,0.8],[-7.5,1],[-7,1.2],[-6.5,1.4],[-6,1.6],[-5.5,1.8],[-5,1.7],[-4.5,1.6],[-4,1.5],[-3.5,1.6],[-3,1.5],[-2.5,1.5],[-2,1.4],[-1.5,1.4],[-1,1.3],[-0.5,1.2],[0,1],[0.5,1],[1,1],[1.5,0.9],[2,0.8],[2.5,0.9],[3,1.2],[3.3,0.8],[3.6,0.3],[3.8,0]];
const fCuT = [[-9,0],[-8.5,0.5],[-8,1.5],[-7.6,4],[-7.3,9],[-7,14],[-6.8,17],[-6.6,19],[-6.4,18],[-6.2,21],[-6,23],[-5.85,25],[-5.7,20],[-5.55,24],[-5.4,19],[-5.25,23],[-5.1,24],[-4.95,18],[-4.8,20],[-4.6,16],[-4.4,17],[-4.2,14],[-4,14],[-3.8,12],[-3.5,11],[-3.2,9],[-2.9,6],[-2.6,3.5],[-2.3,2],[-2,1],[-1.5,0.5],[-0.5,0.6],[0,1],[1,0.7],[2,0.6],[3,0.8],[3.5,0.4],[3.8,0]];
const fCuP = [[-8.5,0],[-7,0.4],[-5,0.8],[-4,0.8],[-3,0.6],[-2.3,0.2],[-2,0]];
const fCuS = [[-8.5,0],[-6,0.3],[-3,0.3],[-2,0.1],[0,0.2],[3,0.2],[3.8,0]];
const fFeT = [[-6.5,0],[-6,0.05],[-5,0.1],[-4,0.15],[-3,0.2],[-2.5,0.3],[-2,0.5],[-1.6,0.9],[-1.3,1.4],[-1,2],[-0.85,2.6],[-0.7,3],[-0.55,2.2],[-0.4,1.6],[-0.25,1.2],[-0.12,6],[-0.05,8],[0.02,6.8],[0.1,7.2],[0.18,8.7],[0.28,4],[0.4,2],[0.6,1.4],[0.9,1],[1.3,0.9],[1.8,0.8],[2.3,0.6],[2.7,0.55],[3,0.8],[3.2,0.4],[3.4,0.2],[3.6,0]];
const fFeP = [[-6.5,0],[-4,0.03],[0,0.06],[3,0.04],[3.6,0]];
const fFeS = [[-6.5,0],[0,0.02],[3.6,0]];
const fSiT = [[-11.2,0],[-10.9,0.05],[-10.7,0.12],[-10.5,0.2],[-10.3,0.22],[-10.1,0.25],[-9.95,0.3],[-9.8,0.22],[-9.65,0.36],[-9.5,0.18],[-9.35,0.3],[-9.2,0.2],[-9.1,0.38],[-8.95,0.15],[-8.8,0.25],[-8.65,0.35],[-8.5,0.12],[-8.3,0.2],[-8.1,0.1],[-7.9,0.15],[-7.7,0.08],[-7.4,0.12],[-7.1,0.08],[-6.8,0.13],[-6.5,0.08],[-6.2,0.12],[-5.9,0.1],[-5.6,0.14],[-5.3,0.1],[-5,0.16],[-4.7,0.2],[-4.4,0.26],[-4.2,0.22],[-4,0.24],[-3.8,0.16],[-3.5,0.14],[-3.2,0.13],[-2.9,0.18],[-2.6,0.26],[-2.4,0.18],[-2.2,0.28],[-2,0.2],[-1.8,0.24],[-1.6,0.3],[-1.4,0.2],[-1.2,0.26],[-1,0.18],[-0.75,0.36],[-0.6,0.15],[-0.45,0.3],[-0.3,0.1],[-0.15,0.2],[0,0.22],[0.3,0.26],[0.6,0.24],[0.9,0.2],[1.2,0.26],[1.5,0.22],[1.8,0.26],[2.1,0.2],[2.4,0.28],[2.7,0.25],[3,0.3],[3.3,0.22],[3.6,0.08],[3.9,0]];
const fSiP = [[-11,0],[-9.5,0.02],[-8.5,0.03],[-7.5,0.04],[-6.5,0.05],[-5.5,0.07],[-5,0.1],[-4.5,0.14],[-4,0.15],[-3.5,0.14],[-3,0.15],[-2.5,0.17],[-2,0.18],[-1.5,0.19],[-1,0.2],[-0.5,0.19],[0,0.2],[0.5,0.2],[1,0.2],[1.5,0.19],[2,0.2],[2.5,0.21],[3,0.22],[3.3,0.18],[3.6,0.06],[3.8,0]];
const fSiS = [[-11,0],[-10.6,0.1],[-10.3,0.2],[-10,0.22],[-9.7,0.18],[-9.4,0.08],[-9,0.04],[-7,0.02],[-5,0.03],[-4,0.04],[-3,0.04],[-2,0.05],[-1,0.06],[0,0.05],[0.5,0.07],[1,0.05],[2,0.05],[3,0.05],[3.6,0.02],[3.8,0]];
const fClT = [[-20,0],[-11,0],[-10.5,0.08],[-10,0.15],[-9.7,0.3],[-9.45,0.8],[-9.3,1.5],[-9.15,0.6],[-9,0.3],[-8.8,1],[-8.65,2.2],[-8.5,1.2],[-8.35,0.5],[-8.1,0.8],[-7.95,1.6],[-7.8,1.7],[-7.65,0.8],[-7.4,0.3],[-7,0.2],[-6.5,0.15],[-6,0.2],[-5.5,0.15],[-5,0.1],[-4.5,0.05],[0,0.03],[7,0]];
const fClS = [[-11,0],[-9.5,0.05],[-8.5,0.12],[-7.5,0.1],[-6.5,0.05],[-5,0]];

const panelData = [
  {tot:aTot, alS:aAlS, alP:aAlP, alT:aAlT, cuS:aCuS, cuP:aCuP, cuT:aCuT, feS:aFeS, feP:aFeP, feT:aFeT, siS:aSiS, siP:aSiP, siT:aSiT, clS:aClS, clT:aClT},
  {tot:bTot, alS:bAlS, alP:bAlP, alT:bAlT, cuS:bCuS, cuP:bCuP, cuT:bCuT, feS:bFeS, feP:bFeP, feT:bFeT, siS:bSiS, siP:bSiP, siT:bSiT, clS:bClS, clT:bClT},
  {tot:cTot, alS:cAlS, alP:cAlP, alT:cAlT, cuS:cCuS, cuP:cCuP, cuT:cCuT, feS:cFeS, feP:cFeP, feT:cFeT, siS:cSiS, siP:cSiP, siT:cSiT, clS:cClS, clT:cClT},
  {tot:dTot, alS:dAlS, alP:dAlP, alT:dAlT, cuS:dCuS, cuP:dCuP, cuT:dCuT, feS:dFeS, feP:dFeP, feT:dFeT, siS:dSiS, siP:dSiP, siT:dSiT, clS:dClS, clT:dClT},
  {tot:eTot, alS:eAlS, alP:eAlP, alT:eAlT, cuS:eCuS, cuP:eCuP, cuT:eCuT, feS:eFeS, feP:eFeP, feT:eFeT, siS:eSiS, siP:eSiP, siT:eSiT, clS:eClS, clT:eClT},
  {tot:fTot, alS:fAlS, alP:fAlP, alT:fAlT, cuS:fCuS, cuP:fCuP, cuT:fCuT, feS:fFeS, feP:fFeP, feT:fFeT, siS:fSiS, siP:fSiP, siT:fSiT, clS:fClS, clT:fClT}
];

// y axis of each stacked sub-plot: max, step, decimals
const yScale = [
  {max:120, step:40, dec:0, showTop:true},
  {max:10, step:2.5, dec:1},
  {max:70, step:20, dec:0},
  {max:8, step:2, dec:0},
  {max:1, step:0.25, dec:2},
  {max:7, step:2, dec:0}
];
const yScaleOverride = {'4-1': {max:14, step:4, dec:0}, '5-3': {max:10, step:2.5, dec:1}};

// ---- layout ----
const layout = [
  {tag:'(a)', left:49, top:9, width:196, height:296},
  {tag:'(b)', left:300, top:9, width:195, height:296},
  {tag:'(c)', left:549, top:9, width:195, height:296},
  {tag:'(d)', left:50, top:339, width:197, height:299},
  {tag:'(e)', left:300, top:339, width:196, height:299},
  {tag:'(f)', left:547, top:339, width:196, height:299}
];

const SERIF = 'Liberation Serif';
const RED = '#ff0000', BLUE = '#0000ff', GREEN = '#00cc00', FILL = '#e8e8e8';
const LINE_ICON = 'path://M0,0H16V2.6H0Z';

function fmtNum(v, dec) {
  const s = Math.abs(v).toFixed(dec);
  return v < 0 ? '\u2013' + s : s;
}

const grids = [], xAxes = [], yAxes = [], series = [], legends = [], graphics = [];

function addLine(name, data, color, width, gi) {
  const s = {
    type: 'line', name: name, data: data, xAxisIndex: gi, yAxisIndex: gi,
    symbol: 'none', showSymbol: false, silent: true, animation: false,
    lineStyle: {color: color, width: width}, itemStyle: {color: color}
  };
  series.push(s);
  return s;
}
function addFill(name, data, gi) {
  const s = addLine(name, data, FILL, 0, gi);
  s.areaStyle = {color: FILL, opacity: 1};
  return s;
}

function buildPanel(pi) {
  const L = layout[pi], d = panelData[pi];
  const h = L.height / 6;
  const rows = [
    [['total', d.tot, '#000', 1.6]],
    [['Al-total', d.alT, 'fill'], ['Al-s', d.alS, RED, 1.7], ['Al-p', d.alP, BLUE, 1.7], ['Al-total', d.alT, '#000', 1.6]],
    [['Cu-total', d.cuT, 'fill'], ['Cu-s', d.cuS, RED, 1.7], ['Cu-p', d.cuP, BLUE, 1.7], ['Cu-d', d.cuT, GREEN, 2.6], ['Cu-total', d.cuT, '#000', 1.4]],
    [['Fe-total', d.feT, 'fill'], ['Fe-s', d.feS, RED, 1.7], ['Fe-p', d.feP, BLUE, 1.7], ['Fe-d', d.feT, GREEN, 2.6], ['Fe-total', d.feT, '#000', 1.4]],
    [['Si-total', d.siT, 'fill'], ['Si-s', d.siS, RED, 1.7], ['Si-p', d.siP, BLUE, 1.7], ['Si-total', d.siT, '#000', 1.6]],
    [['Cl-total', d.clT, 'fill'], ['Cl-s', d.clS, RED, 1.7], ['Cl-total', d.clT, '#000', 2.2], ['Cl-p', d.clT, BLUE, 1.6]]
  ];
  const legendRows = [
    [['total', '#000']],
    [['Al-s', RED], ['Al-p', BLUE], ['Al-total', 'box']],
    [['Cu-s', RED], ['Cu-p', BLUE], ['Cu-d', GREEN], ['Cu-total', 'box']],
    [['Fe-s', RED], ['Fe-p', BLUE], ['Fe-d', GREEN], ['Fe-total', 'box']],
    [['Si-s', RED], ['Si-p', BLUE], ['Si-total', 'box']],
    [['Cl-s', RED], ['Cl-p', BLUE], ['Cl-total', 'box']]
  ];

  for (let r = 0; r < 6; r++) {
    const gi = pi * 6 + r;
    const top = L.top + r * h;
    const yc = yScaleOverride[pi + '-' + r] || yScale[r];
    grids.push({left: L.left, top: top, width: L.width, height: h, show: true, borderColor: '#000', borderWidth: 1.2});
    xAxes.push({
      gridIndex: gi, type: 'value', min: -20, max: 7, interval: 1,
      axisLine: {show: true, onZero: false, lineStyle: {color: '#000', width: 1.2}},
      axisTick: {show: true, inside: true, length: 3, lineStyle: {color: '#000', width: 1}},
      splitLine: {show: false},
      axisLabel: {
        show: r === 5, margin: 3, color: '#000', fontFamily: SERIF, fontWeight: 'bold', fontSize: 8,
        formatter: v => (Math.abs(v % 2) < 1e-9 && v < 7) ? fmtNum(v, 0) : ''
      }
    });
    yAxes.push({
      gridIndex: gi, type: 'value', min: 0, max: yc.max, interval: yc.step,
      axisLine: {show: true, onZero: false, lineStyle: {color: '#000', width: 1.2}},
      axisTick: {show: true, inside: true, length: 3, lineStyle: {color: '#000', width: 1}},
      splitLine: {show: false},
      axisLabel: {
        margin: 4, color: '#000', fontFamily: SERIF, fontWeight: 'bold', fontSize: 9,
        formatter: v => (v < yc.max - 1e-9 || yc.showTop) ? fmtNum(v, yc.dec) : ''
      }
    });

    let last = null;
    rows[r].forEach(([name, data, color, width]) => {
      last = color === 'fill' ? addFill(name, data, gi) : addLine(name, data, color, width, gi);
    });
    last.markLine = {
      silent: true, symbol: ['none', 'none'], animation: false, label: {show: false},
      lineStyle: {color: '#ff2a8a', type: [3, 2], width: 1.3},
      data: [{xAxis: 0}]
    };

    legends.push({
      left: L.left + 6, top: top + 2, orient: 'vertical', padding: 0,
      itemWidth: 16, itemHeight: 9, itemGap: 1.5, selectedMode: false,
      textStyle: {fontFamily: SERIF, fontSize: 9, color: '#000'},
      data: legendRows[r].map(([n, c]) => c === 'box'
        ? {name: n, icon: 'rect', itemStyle: {color: FILL, borderColor: '#7a7a7a', borderWidth: 1}}
        : {name: n, icon: LINE_ICON, itemStyle: {color: c, borderWidth: 0}})
    });
  }

  graphics.push({
    type: 'text', x: L.left - 29, y: L.top + 10, silent: true,
    style: {text: L.tag, font: '20px "Liberation Serif"', fill: '#000',
      align: 'center', verticalAlign: 'middle', textAlign: 'center', textVerticalAlign: 'middle'}
  });
  graphics.push({
    type: 'text', x: L.left + L.width / 2, y: L.top + L.height + 19, silent: true,
    style: {text: 'Energy (eV)', font: 'bold 10.5px "Liberation Serif"', fill: '#000',
      align: 'center', verticalAlign: 'middle', textAlign: 'center', textVerticalAlign: 'middle'}
  });
  graphics.push({
    type: 'text', x: L.left - 22, y: L.top + L.height / 2 - 9, rotation: Math.PI / 2, silent: true,
    style: {text: 'Density of states (electrons/eV)', font: 'bold 10px "Liberation Serif"', fill: '#000',
      align: 'center', verticalAlign: 'middle', textAlign: 'center', textVerticalAlign: 'middle'}
  });
}

for (let i = 0; i < 6; i++) buildPanel(i);

const chart = echarts.init(document.getElementById('chart'), null, {renderer: 'canvas'});
chart.setOption({
  animation: false,
  backgroundColor: '#fff',
  grid: grids,
  xAxis: xAxes,
  yAxis: yAxes,
  legend: legends,
  series: series,
  graphic: {elements: graphics}
});
</script>
</body>
</html>
